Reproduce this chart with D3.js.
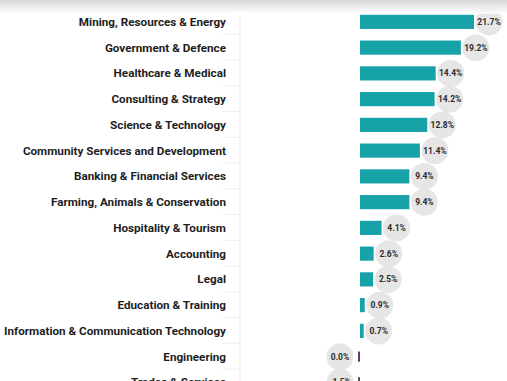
<!DOCTYPE html>
<html>
<head>
<meta charset="utf-8">
<script src="https://cdn.jsdelivr.net/npm/d3@7"></script>
<style>
  body { margin: 0; background: #fff; overflow: hidden; }
  svg { display: block; }
</style>
</head>
<body>
<div id="chart"></div>
<script>
// data
var industries = [
  "Mining, Resources & Energy",
  "Government & Defence",
  "Healthcare & Medical",
  "Consulting & Strategy",
  "Science & Technology",
  "Community Services and Development",
  "Banking & Financial Services",
  "Farming, Animals & Conservation",
  "Hospitality & Tourism",
  "Accounting",
  "Legal",
  "Education & Training",
  "Information & Communication Technology",
  "Engineering",
  "Trades & Services"
];
var growth = [21.7, 19.2, 14.4, 14.2, 12.8, 11.4, 9.4, 9.4, 4.1, 2.6, 2.5, 0.9, 0.7, 0.0, -1.5];

var width = 507, height = 381;

var data = industries.map(function(d, i) { return { name: d, value: growth[i] }; });

var svg = d3.select("#chart").append("svg")
  .attr("width", width)
  .attr("height", height);

// top shadow
var defs = svg.append("defs");
var grad = defs.append("linearGradient")
  .attr("id", "shade")
  .attr("x1", 0).attr("x2", 0).attr("y1", 0).attr("y2", 1);
grad.append("stop").attr("offset", "0%").attr("stop-color", "#d4d4d4");
grad.append("stop").attr("offset", "100%").attr("stop-color", "#ffffff");

var xScale = d3.scaleLinear()
  .domain([0, 21.7])
  .range([360, 474]);

var yScale = d3.scaleBand()
  .domain(industries)
  .range([9, 9 + 25.75 * industries.length])
  .paddingInner(0.45)
  .paddingOuter(0.225);

// faint separators
var grid = svg.append("g");
grid.append("line")
  .attr("x1", 240).attr("x2", 240)
  .attr("y1", 12).attr("y2", height)
  .attr("stroke", "#ececec");
grid.selectAll("line.sep").data(industries.slice(1))
  .enter().append("line")
  .attr("class", "sep")
  .attr("x1", 222).attr("x2", 240)
  .attr("y1", function(d) { return yScale(d) - yScale.step() * 0.225 - 0.5; })
  .attr("y2", function(d) { return yScale(d) - yScale.step() * 0.225 - 0.5; })
  .attr("stroke", "#eeeeee");

// category labels
svg.append("g").selectAll("text").data(data)
  .enter().append("text")
  .attr("x", 226)
  .attr("y", function(d) { return yScale(d.name) + yScale.bandwidth() / 2; })
  .attr("dy", "0.35em")
  .attr("text-anchor", "end")
  .attr("font-family", "Roboto, sans-serif")
  .attr("font-size", "11.7px")
  .attr("font-weight", "bold")
  .attr("fill", "#1e1e1e")
  .text(function(d) { return d.name; });

// bars
var bars = svg.append("g");
bars.selectAll("rect").data(data)
  .enter().append("rect")
  .attr("x", function(d) { return d.value > 0 ? xScale(0) : xScale(0) - 2; })
  .attr("y", function(d) { return d.value > 0 ? yScale(d.name) : yScale(d.name) + 2; })
  .attr("width", function(d) { return d.value > 0 ? xScale(d.value) - xScale(0) : 2; })
  .attr("height", function(d) { return d.value > 0 ? yScale.bandwidth() : yScale.bandwidth() - 4; })
  .attr("fill", function(d) { return d.value > 0 ? "#17a2a7" : "#5b3f5e"; });

// value bubbles
var bub = svg.append("g").selectAll("g").data(data)
  .enter().append("g")
  .attr("transform", function(d) {
    var cx = d.value > 0 ? xScale(d.value) + 15 : xScale(0) - 20;
    return "translate(" + cx + "," + (yScale(d.name) + yScale.bandwidth() / 2) + ")";
  });
bub.append("circle")
  .attr("r", 13.5)
  .attr("fill", "#e6e6e7");
bub.append("text")
  .attr("text-anchor", "middle")
  .attr("dy", "0.35em")
  .attr("font-family", "Roboto, sans-serif")
  .attr("font-size", "8.5px")
  .attr("font-weight", "bold")
  .attr("fill", "#2b2b2b")
  .text(function(d) { return d.value.toFixed(1) + "%"; });

svg.append("rect")
  .attr("x", 0).attr("y", 0)
  .attr("width", width).attr("height", 14)
  .attr("fill", "url(#shade)")
  .attr("opacity", 0.9);
</script>
</body>
</html>
